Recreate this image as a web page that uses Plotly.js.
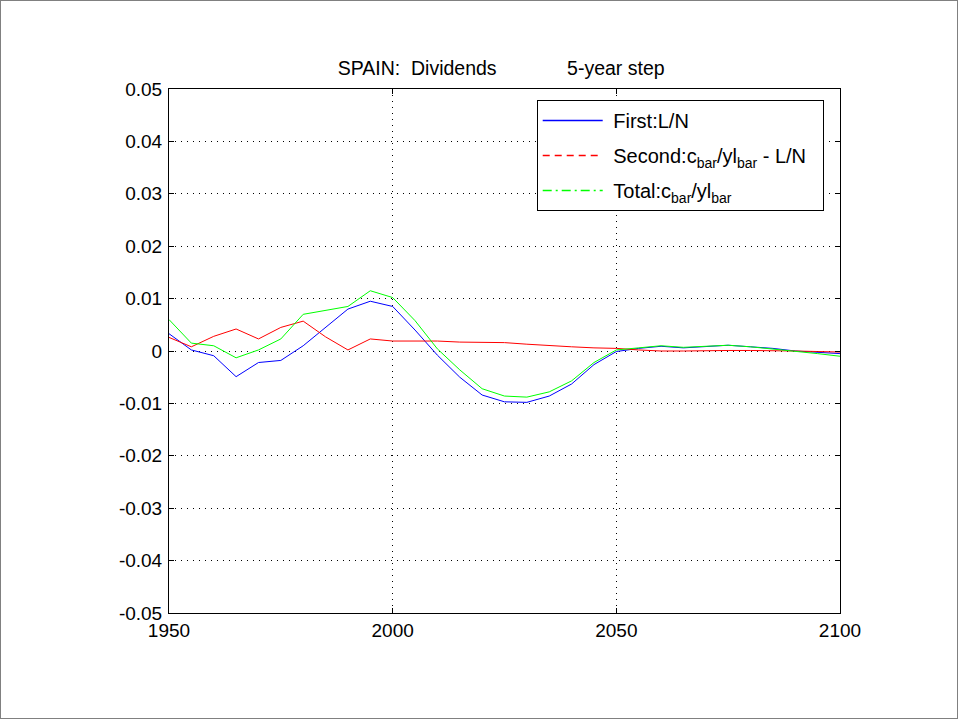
<!DOCTYPE html>
<html>
<head>
<meta charset="utf-8">
<script src="https://cdn.plot.ly/plotly-3.0.1.min.js"></script>
<style>
  html, body { margin: 0; padding: 0; background: #fff; }
  #chart { width: 956px; height: 717px; border: 1px solid #808080; }
</style>
</head>
<body>
<div id="chart"></div>
<script>
const years = [1950,1955,1960,1965,1970,1975,1980,1985,1990,1995,2000,2005,2010,2015,2020,2025,2030,2035,2040,2045,2050,2055,2060,2065,2070,2075,2080,2085,2090,2095,2100];

const firstLN = [0.0033,0.0002,-0.0009,-0.0049,-0.0022,-0.0018,0.0010,0.0045,0.0080,0.0095,0.0085,0.0040,-0.0008,-0.0050,-0.0084,-0.0097,-0.0098,-0.0086,-0.0063,-0.0026,-0.0001,0.0005,0.0009,0.0006,0.0008,0.0011,0.0008,0.0005,0.0000,-0.0003,-0.0005];

const secondVals = [0.0026,0.0008,0.0028,0.0042,0.0023,0.0045,0.0057,0.0027,0.0002,0.0023,0.0019,0.0019,0.0019,0.0017,0.0017,0.0016,0.0013,0.0010,0.0008,0.0006,0.0005,0.0002,0.0000,0.0000,0.0001,0.0001,0.0001,0.0001,0.0000,-0.0001,-0.0002];

const totalVals = [0.0060,0.0015,0.0010,-0.0013,0.0002,0.0023,0.0070,0.0078,0.0085,0.0115,0.0102,0.0058,0.0004,-0.0036,-0.0072,-0.0086,-0.0088,-0.0078,-0.0057,-0.0022,0.0002,0.0006,0.0010,0.0007,0.0009,0.0011,0.0008,0.0004,0.0000,-0.0005,-0.0010];

const seriesNames = ['\u00A0First:L/N', '\u00A0Second:c<sub>bar</sub>/yl<sub>bar</sub> - L/N\u00A0\u00A0', '\u00A0Total:c<sub>bar</sub>/yl<sub>bar</sub>'];
const seriesColors = ['#0000ff', '#ff0000', '#00ff00'];
const legendDash = ['solid', '7px,5px', '9px,4px,2px,4px'];
const seriesValues = [firstLN, secondVals, totalVals];

const yTicks = [-0.05,-0.04,-0.03,-0.02,-0.01,0,0.01,0.02,0.03,0.04,0.05];
const yTickText = ['-0.05','-0.04','-0.03','-0.02','-0.01','0','0.01','0.02','0.03','0.04','0.05'];
const xTicks = [1950, 2000, 2050, 2100];

const traces = [];
seriesValues.forEach((vals, i) => {
  traces.push({
    x: years, y: vals, type: 'scatter', mode: 'lines',
    line: {color: seriesColors[i], width: 1},
    showlegend: false, hoverinfo: 'skip'
  });
});
seriesValues.forEach((vals, i) => {
  traces.push({
    x: [null], y: [null], type: 'scatter', mode: 'lines',
    name: seriesNames[i], legendgroup: 'g' + i,
    line: {color: seriesColors[i], width: 1.3, dash: legendDash[i]},
    showlegend: true
  });
});

const fam = 'Arial, "Liberation Sans", sans-serif';
const tickFont = {family: fam, size: 19, color: '#000'};

const layout = {
  width: 956, height: 717,
  margin: {l: 168, r: 117, t: 88, b: 105},
  paper_bgcolor: '#fff', plot_bgcolor: '#fff',
  font: tickFont,
  title: {
    text: 'SPAIN:\u00A0\u00A0Dividends\u00A0\u00A0\u00A0\u00A0\u00A0\u00A0\u00A0\u00A0\u00A0\u00A0\u00A0\u00A0\u00A05-year step',
    font: {family: fam, size: 19.5, color: '#000'},
    x: 0.495, xref: 'paper', xanchor: 'center',
    y: 1, yref: 'paper', yanchor: 'bottom', pad: {b: 14}
  },
  xaxis: {
    range: [1950, 2100], tickvals: xTicks, ticktext: xTicks.map(String),
    showline: true, linecolor: '#000', linewidth: 1, mirror: 'allticks',
    ticks: 'inside', ticklen: 5, tickcolor: '#000',
    showgrid: true, gridcolor: '#000', gridwidth: 1, griddash: '1px,5px',
    zeroline: false, tickfont: tickFont
  },
  yaxis: {
    range: [-0.05, 0.05], tickvals: yTicks, ticktext: yTickText,
    showline: true, linecolor: '#000', linewidth: 1, mirror: 'allticks',
    ticks: 'inside', ticklen: 5, tickcolor: '#000',
    showgrid: true, gridcolor: '#000', gridwidth: 1, griddash: '1px,5px',
    zeroline: false, tickfont: tickFont, ticklabelstandoff: 2
  },
  legend: {
    x: 0.548, y: 0.979, xanchor: 'left', yanchor: 'top',
    bgcolor: '#fff', bordercolor: '#000', borderwidth: 1,
    font: {family: fam, size: 20, color: '#000'},
    tracegroupgap: 6, itemwidth: 60
  },
  showlegend: true
};

Plotly.newPlot('chart', traces, layout, {displayModeBar: false, staticPlot: true});
</script>
</body>
</html>
